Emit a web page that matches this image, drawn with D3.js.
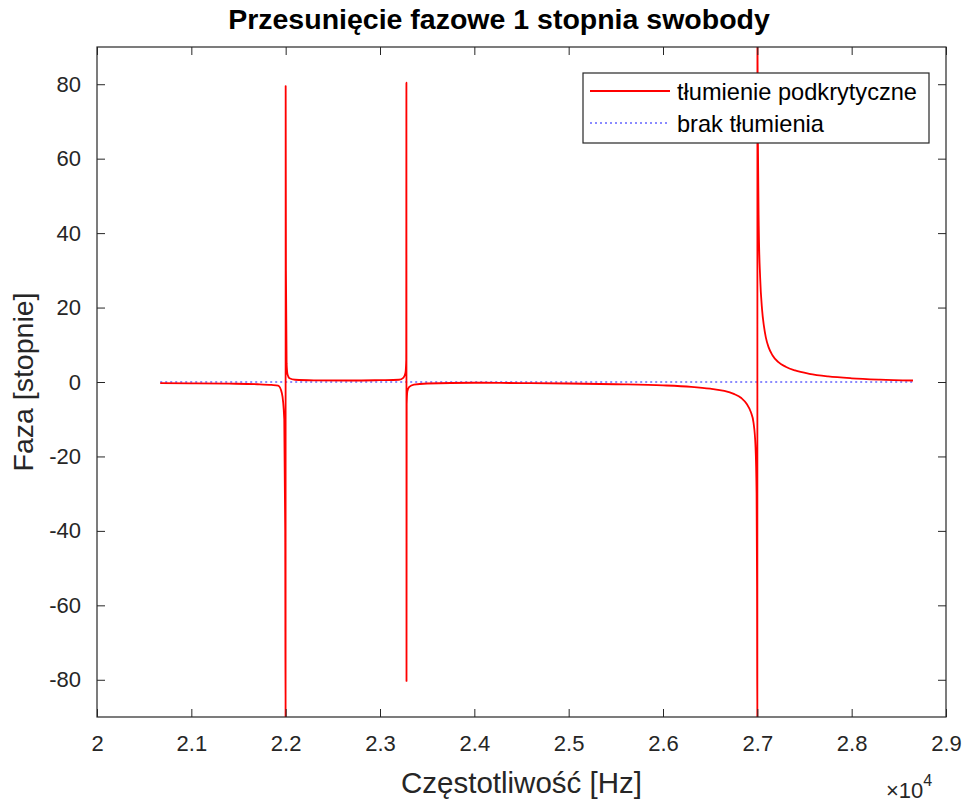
<!DOCTYPE html>
<html>
<head>
<meta charset="utf-8">
<script src="https://cdn.jsdelivr.net/npm/d3@7"></script>
<style>
  html, body { margin: 0; padding: 0; background: #fff; }
  svg { display: block; font-family: "Liberation Sans", Arial, sans-serif; }
</style>
</head>
<body>
<svg id="chart" width="968" height="802"></svg>
<script>
// ---- data ----
const titleText = "Przesunięcie fazowe 1 stopnia swobody";
const xLabelText = "Częstotliwość [Hz]";
const yLabelText = "Faza [stopnie]";
const seriesNames = ["tłumienie podkrytyczne", "brak tłumienia"];

const xTicks = [20000, 21000, 22000, 23000, 24000, 25000, 26000, 27000, 28000, 29000];
const xTickLabels = ["2", "2.1", "2.2", "2.3", "2.4", "2.5", "2.6", "2.7", "2.8", "2.9"];
const yTicks = [-80, -60, -40, -20, 0, 20, 40, 60, 80];
const yTickLabels = ["-80", "-60", "-40", "-20", "0", "20", "40", "60", "80"];

// damped (red) phase, Hz / degrees
const redFreq = [20670, 21000, 21400, 21700, 21850, 21920, 21960, 21985, 21995, 21999,
  22000, 22003, 22010, 22020, 22040, 22100, 22300, 22700, 23000, 23200, 23250, 23270, 23278,
  23280, 23281, 23283, 23290, 23310, 23360, 23500, 24000, 24500, 25000, 25500, 26000, 26300,
  26500, 26650, 26750, 26830, 26890, 26930, 26960, 26980, 26992, 26997, 27000,
  27001, 27006, 27015, 27030, 27050, 27070, 27090, 27120, 27160, 27220, 27300, 27400, 27550,
  27750, 28000, 28300, 28650];
const redPhase = [-0.3, -0.35, -0.45, -0.6, -0.8, -1.0, -3, -10, -40, -95,
  79.5, 30, 5, 2, 1, 0.6, 0.45, 0.4, 0.5, 0.6, 1.2, 2.5, 6,
  80.4, -80.3, -6, -2.5, -1.3, -0.7, -0.4, -0.2, -0.3, -0.4, -0.6, -0.9, -1.3,
  -1.8, -2.4, -3.2, -4.3, -6, -8, -11, -17, -30, -55, -95,
  95, 65, 42, 28, 19.5, 15, 12, 9.3, 7.2, 5.4, 4.1, 3.1, 2.2,
  1.5, 1.0, 0.65, 0.4];

// undamped (blue) phase
const blueFreq = [20670, 22000, 23280, 27000, 28650];
const bluePhase = [0, 0, 0, 0, 0];

// ---- layout ----
const svg = d3.select("#chart");
const L = 97, R = 946, T = 47, B = 717;
const axisColor = "#262626";
const blueColor = "#6464ff";

const x = d3.scaleLinear().domain([20000, 29000]).range([L, R]);
const y = d3.scaleLinear().domain([-90, 90]).range([B, T]);

svg.append("rect").attr("x", L).attr("y", T).attr("width", R - L).attr("height", B - T).attr("fill", "#fff");

svg.append("defs").append("clipPath").attr("id", "clip")
  .append("rect").attr("x", L).attr("y", T).attr("width", R - L).attr("height", B - T);

const line = d3.line().curve(d3.curveMonotoneX).x(d => x(d[0])).y(d => y(d[1]));
const plot = svg.append("g").attr("clip-path", "url(#clip)");

plot.append("path")
  .datum(blueFreq.map((f, i) => [f, bluePhase[i]]))
  .attr("d", d3.line().x(d => x(d[0])).y(d => y(d[1])))
  .attr("fill", "none")
  .attr("stroke", blueColor)
  .attr("stroke-width", 1.4)
  .attr("stroke-dasharray", "2,3");

plot.append("path")
  .datum(redFreq.map((f, i) => [f, redPhase[i]]))
  .attr("d", line)
  .attr("fill", "none")
  .attr("stroke", "#ff0000")
  .attr("stroke-width", 1.8)
  .attr("stroke-linejoin", "round");

// ---- axes (MATLAB-like box with inward ticks on all sides) ----
const tickLen = 8;
const fmtX = d => xTickLabels[xTicks.indexOf(d)];
const fmtY = d => yTickLabels[yTicks.indexOf(d)];

function styleAxis(g) {
  g.select(".domain").remove();
  g.selectAll(".tick line").attr("stroke", axisColor).attr("stroke-width", 1);
  g.selectAll(".tick text").attr("fill", axisColor).attr("font-size", 22)
    .attr("font-family", "'Liberation Sans', Arial, sans-serif");
}

svg.append("g").attr("transform", `translate(0,${B})`)
  .call(d3.axisBottom(x).tickValues(xTicks).tickFormat(fmtX).tickSizeInner(-tickLen).tickSizeOuter(0).tickPadding(18))
  .call(styleAxis);
svg.append("g").attr("transform", `translate(0,${T})`)
  .call(d3.axisTop(x).tickValues(xTicks).tickFormat("").tickSizeInner(-tickLen).tickSizeOuter(0))
  .call(styleAxis);
svg.append("g").attr("transform", `translate(${L},0)`)
  .call(d3.axisLeft(y).tickValues(yTicks).tickFormat(fmtY).tickSizeInner(-tickLen).tickSizeOuter(0).tickPadding(16))
  .call(styleAxis);
svg.append("g").attr("transform", `translate(${R},0)`)
  .call(d3.axisRight(y).tickValues(yTicks).tickFormat("").tickSizeInner(-tickLen).tickSizeOuter(0))
  .call(styleAxis);

svg.append("rect").attr("x", L).attr("y", T).attr("width", R - L).attr("height", B - T)
  .attr("fill", "none").attr("stroke", axisColor).attr("stroke-width", 1.2);

// ---- texts ----
svg.append("text").attr("x", 499).attr("y", 29).attr("text-anchor", "middle")
  .attr("font-size", 28.5).attr("font-weight", "bold").attr("fill", "#000").text(titleText);

svg.append("text").attr("x", (L + R) / 2).attr("y", 793).attr("text-anchor", "middle")
  .attr("font-size", 29.5).attr("fill", axisColor).text(xLabelText);

svg.append("text").attr("transform", `translate(33,${(T + B) / 2}) rotate(-90)`)
  .attr("text-anchor", "middle").attr("font-size", 28.5).attr("fill", axisColor).text(yLabelText);

const exp = svg.append("text").attr("x", 886).attr("y", 798).attr("font-size", 22).attr("fill", axisColor);
exp.append("tspan").text("×10");
exp.append("tspan").attr("dy", -12).attr("font-size", 16).text("4");

// ---- legend ----
const lg = svg.append("g");
lg.append("rect").attr("x", 583).attr("y", 73).attr("width", 346).attr("height", 70)
  .attr("fill", "#fff").attr("stroke", axisColor).attr("stroke-width", 1.2);
const legendItems = [
  { name: seriesNames[0], color: "#ff0000", dash: null, width: 1.8 },
  { name: seriesNames[1], color: blueColor, dash: "2,3", width: 1.4 }
];
legendItems.forEach((it, i) => {
  const yy = 91 + i * 32;
  lg.append("line").attr("x1", 590).attr("x2", 670).attr("y1", yy).attr("y2", yy)
    .attr("stroke", it.color).attr("stroke-width", it.width)
    .attr("stroke-dasharray", it.dash);
  lg.append("text").attr("x", 677).attr("y", yy + 9).attr("font-size", 23.6).attr("fill", "#000").text(it.name);
});
</script>
</body>
</html>
